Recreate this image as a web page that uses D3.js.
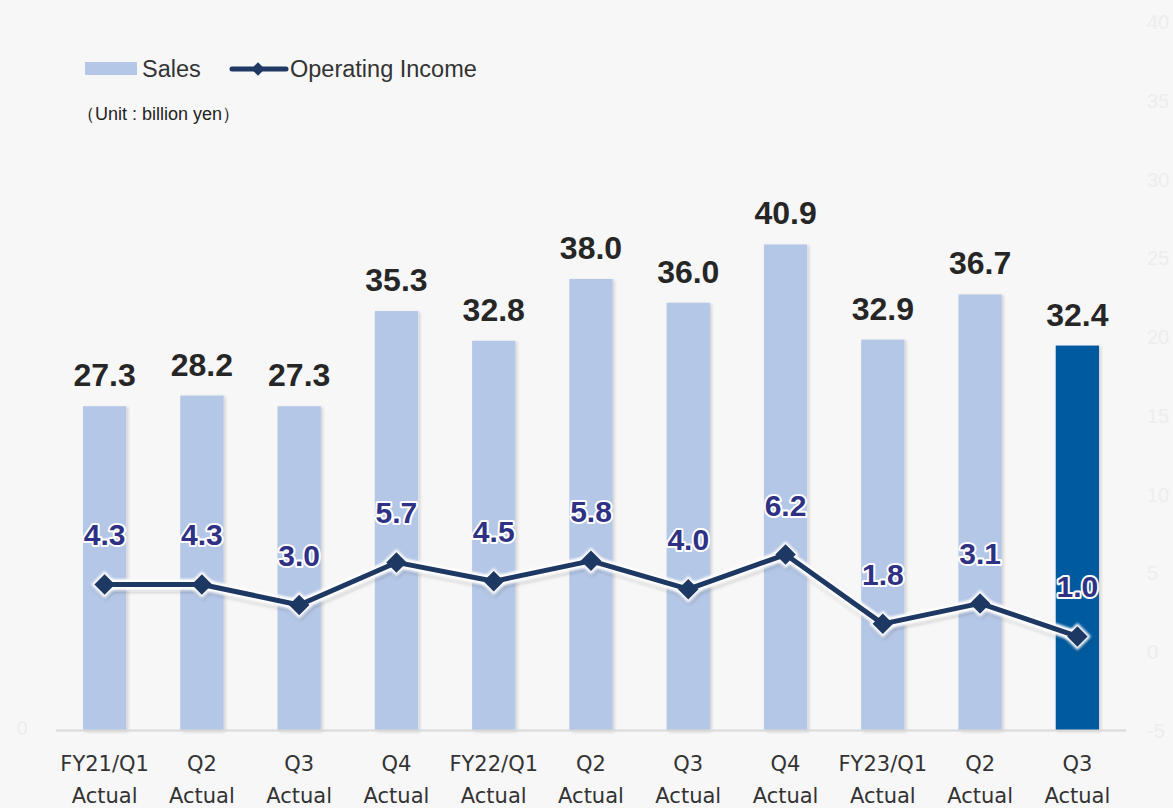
<!DOCTYPE html>
<html>
<head>
<meta charset="utf-8">
<script src="https://cdn.jsdelivr.net/npm/d3@7"></script>
<style>
  body { margin: 0; background: #f7f7f7; }
  svg { display: block; }
</style>
</head>
<body>
<div id="chart"></div>
<script>
// data
var line1 = ["FY21/Q1", "Q2", "Q3", "Q4", "FY22/Q1", "Q2", "Q3", "Q4", "FY23/Q1", "Q2", "Q3"];
var line2 = ["Actual", "Actual", "Actual", "Actual", "Actual", "Actual", "Actual", "Actual", "Actual", "Actual", "Actual"];
var sales = [27.3, 28.2, 27.3, 35.3, 32.8, 38.0, 36.0, 40.9, 32.9, 36.7, 32.4];
var income = [4.3, 4.3, 3.0, 5.7, 4.5, 5.8, 4.0, 6.2, 1.8, 3.1, 1.0];
var rightTicks = [-5, 0, 5, 10, 15, 20, 25, 30, 35, 40];
var leftTicks = [0];

var width = 1173, height = 808;
var plotLeft = 56, plotRight = 1126, plotTop = 22, plotBottom = 731;

var svg = d3.select("#chart")
    .append("svg")
    .attr("width", width)
    .attr("height", height);

var defs = svg.append("defs");
var sh = defs.append("filter").attr("id", "barShadow")
    .attr("x", "-20%").attr("y", "-5%").attr("width", "150%").attr("height", "110%");
sh.append("feDropShadow").attr("dx", 2).attr("dy", 1).attr("stdDeviation", 1.5)
    .attr("flood-color", "#000").attr("flood-opacity", 0.15);
var glow = defs.append("filter").attr("id", "lineGlow")
    .attr("x", "-10%").attr("y", "-50%").attr("width", "120%").attr("height", "200%");
glow.append("feDropShadow").attr("dx", 1).attr("dy", 2).attr("stdDeviation", 1.5)
    .attr("flood-color", "#000").attr("flood-opacity", 0.25);
var soft = defs.append("filter").attr("id", "soft");
soft.append("feGaussianBlur").attr("stdDeviation", 1.2);

// scales
var x = d3.scaleBand()
    .domain(d3.range(sales.length))
    .range([plotLeft, plotRight])
    .paddingInner(0.555)
    .paddingOuter(0.2775);

var y = d3.scaleLinear().domain([0, 59.6]).range([plotBottom, plotTop]);
var y2 = d3.scaleLinear().domain([-5, 40]).range([plotBottom, plotTop]);

// faint axes
svg.append("g").selectAll("text")
    .data(rightTicks).enter().append("text")
    .attr("x", 1147)
    .attr("y", function (d) { return y2(d) + 7; })
    .attr("font-family", "Liberation Sans, Arial, sans-serif")
    .attr("font-size", 20)
    .attr("fill", "#ededed")
    .text(function (d) { return d; });

svg.append("g").selectAll("text")
    .data(leftTicks).enter().append("text")
    .attr("x", 22)
    .attr("y", function (d) { return y(d) + 4; })
    .attr("text-anchor", "middle")
    .attr("font-family", "Liberation Sans, Arial, sans-serif")
    .attr("font-size", 20)
    .attr("fill", "#ededed")
    .text(function (d) { return d; });

// bars
svg.append("g").selectAll("rect")
    .data(sales).enter().append("rect")
    .attr("x", function (d, i) { return x(i); })
    .attr("y", function (d) { return y(d); })
    .attr("width", x.bandwidth())
    .attr("height", function (d) { return y(0) - y(d); })
    .attr("fill", function (d, i) { return i === sales.length - 1 ? "#015a9f" : "#b4c7e7"; })
    .attr("filter", "url(#barShadow)");

// baseline
svg.append("line")
    .attr("x1", plotLeft).attr("x2", plotRight)
    .attr("y1", y(0) - 0.5).attr("y2", y(0) - 0.5)
    .attr("stroke", "#d9d9d9").attr("stroke-width", 2);

// sales labels
svg.append("g").selectAll("text")
    .data(sales).enter().append("text")
    .attr("x", function (d, i) { return x(i) + x.bandwidth() / 2; })
    .attr("y", function (d) { return y(d) - 20; })
    .attr("text-anchor", "middle")
    .attr("font-family", "Liberation Sans, Arial, sans-serif")
    .attr("font-weight", "bold")
    .attr("font-size", 32)
    .attr("fill", "#262626")
    .text(function (d) { return d.toFixed(1); });

// income line
var cx = function (d, i) { return x(i) + x.bandwidth() / 2; };
var line = d3.line()
    .x(function (d, i) { return cx(d, i); })
    .y(function (d) { return y2(d); });

var lg = svg.append("g").attr("filter", "url(#lineGlow)");
lg.append("path")
    .datum(income)
    .attr("d", line)
    .attr("fill", "none")
    .attr("stroke", "#ffffff")
    .attr("stroke-width", 11)
    .attr("stroke-linejoin", "round")
    .attr("filter", "url(#soft)");
lg.selectAll(".halo")
    .data(income).enter().append("path")
    .attr("class", "halo")
    .attr("transform", function (d, i) { return "translate(" + cx(d, i) + "," + y2(d) + ") rotate(45)"; })
    .attr("d", d3.symbol().type(d3.symbolSquare).size(360))
    .attr("fill", "#ffffff")
    .attr("filter", "url(#soft)");
lg.append("path")
    .datum(income)
    .attr("d", line)
    .attr("fill", "none")
    .attr("stroke", "#1f3864")
    .attr("stroke-width", 5)
    .attr("stroke-linejoin", "round");
lg.selectAll(".pt")
    .data(income).enter().append("path")
    .attr("class", "pt")
    .attr("transform", function (d, i) { return "translate(" + cx(d, i) + "," + y2(d) + ") rotate(45)"; })
    .attr("d", d3.symbol().type(d3.symbolSquare).size(210))
    .attr("fill", "#1f3864");

// income labels
svg.append("g").selectAll("text")
    .data(income).enter().append("text")
    .attr("x", function (d, i) { return cx(d, i); })
    .attr("y", function (d) { return y2(d) - 39; })
    .attr("text-anchor", "middle")
    .attr("font-family", "Liberation Sans, Arial, sans-serif")
    .attr("font-weight", "bold")
    .attr("font-size", 30)
    .attr("fill", "#2e3184")
    .attr("stroke", "#ffffff")
    .attr("stroke-width", 4)
    .attr("stroke-linejoin", "round")
    .attr("paint-order", "stroke")
    .text(function (d) { return d.toFixed(1); });

// x labels
var xl = svg.append("g").selectAll("text")
    .data(line1).enter().append("text")
    .attr("text-anchor", "middle")
    .attr("font-family", "DejaVu Sans, sans-serif")
    .attr("font-size", 21)
    .attr("fill", "#333333");
xl.append("tspan")
    .attr("x", function (d, i) { return cx(d, i); })
    .attr("y", 771)
    .text(function (d) { return d; });
xl.append("tspan")
    .attr("x", function (d, i) { return cx(d, i); })
    .attr("y", 803)
    .text(function (d, i) { return line2[i]; });

// legend
var leg = svg.append("g").attr("font-family", "Liberation Sans, Arial, sans-serif");
leg.append("rect")
    .attr("x", 85).attr("y", 62).attr("width", 52).attr("height", 13)
    .attr("fill", "#b4c7e7");
leg.append("text")
    .attr("x", 142).attr("y", 77)
    .attr("font-size", 23.5).attr("fill", "#333333")
    .text("Sales");
leg.append("line")
    .attr("x1", 232).attr("x2", 286).attr("y1", 69).attr("y2", 69)
    .attr("stroke", "#1f3864").attr("stroke-width", 5).attr("stroke-linecap", "round");
leg.append("path")
    .attr("transform", "translate(258,69) rotate(45)")
    .attr("d", d3.symbol().type(d3.symbolSquare).size(90))
    .attr("fill", "#1f3864");
leg.append("text")
    .attr("x", 290).attr("y", 77)
    .attr("font-size", 23.5).attr("fill", "#333333")
    .text("Operating Income");
leg.append("text")
    .attr("x", 77).attr("y", 120)
    .attr("font-size", 18).attr("fill", "#222222")
    .text("（Unit : billion yen）");
</script>
</body>
</html>
